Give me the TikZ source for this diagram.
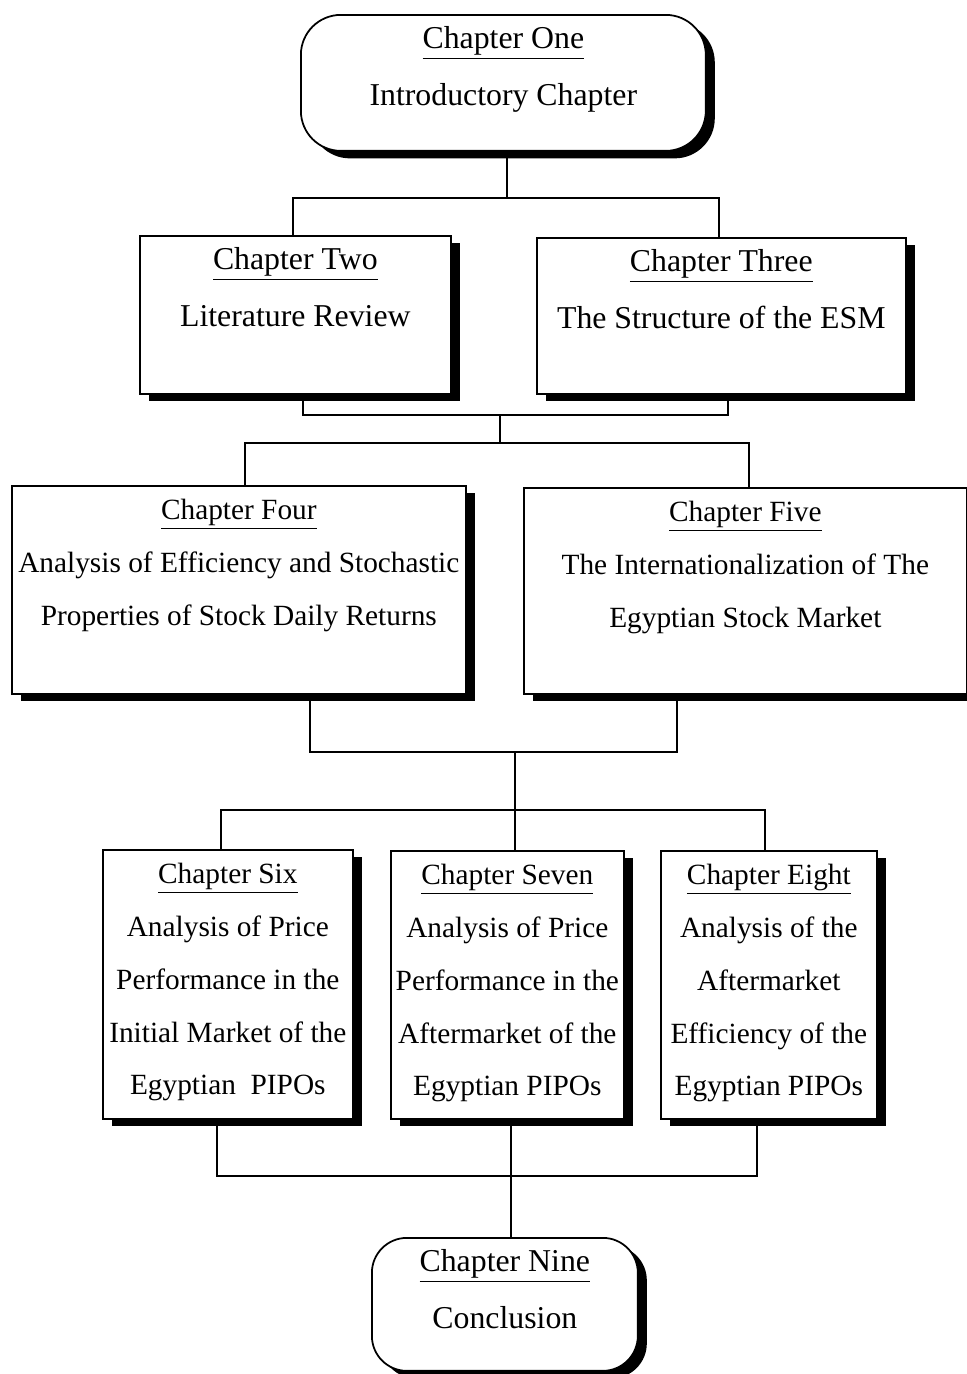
\documentclass[tikz,border=0pt]{standalone}
\usepackage{fontspec}
\setmainfont{Liberation Serif}
\usetikzlibrary{shadows}
\tikzset{every path/.style={black,line width=1pt}, chapbox/.style={draw, fill=white, inner sep=0pt, anchor=north west, drop shadow={shadow xshift=0.18cm, shadow yshift=-0.15cm, fill=black, opacity=1}}}
\tikzset{roundbox/.style={chapbox, rounded corners=0.8cm}, bigtext/.style={font=\fontsize{18.1}{32.3}\selectfont}, smalltext/.style={font=\fontsize{16.7}{30}\selectfont}}
\newcommand{\chaptext}[3]{\parbox[t][#1][t]{#2}{\centering\rule{0pt}{0.68cm}#3}}

\begin{document}
\begin{tikzpicture}[x=0.02cm,y=-0.02cm]
   \useasboundingbox (0,0) rectangle (967,1374);
   \begin{scope}
    \node[roundbox, bigtext] (one) at (300,14) {\chaptext{2.72cm}{8.1cm}{\underline{Chapter One}\\Introductory Chapter}};
    \node[chapbox, bigtext] (two) at (139,235) {\chaptext{3.16cm}{6.22cm}{\underline{Chapter Two}\\Literature Review}};
    \node[chapbox, bigtext] (three) at (536,237) {\chaptext{3.12cm}{7.38cm}{\underline{Chapter Three}\\The Structure of the ESM}};
    \node[chapbox, smalltext] (four) at (11,485) {\chaptext{4.16cm}{9.08cm}{\underline{Chapter Four}\\Analysis of Efficiency and Stochastic\\Properties of Stock Daily Returns}};
    \node[chapbox, smalltext] (five) at (523,487) {\chaptext{4.12cm}{8.86cm}{\underline{Chapter Five}\\The Internationalization of The\\Egyptian Stock Market}};
   \end{scope}
   \begin{scope}
    \node[chapbox, smalltext] (six) at (102,849) {\chaptext{5.38cm}{5.0cm}{\underline{Chapter Six}\\Analysis of Price\\Performance in the\\Initial Market of the\\Egyptian\ \ PIPOs}};
    \node[chapbox, smalltext] (seven) at (390,850) {\chaptext{5.36cm}{4.66cm}{\underline{Chapter Seven}\\Analysis of Price\\Performance in the\\Aftermarket of the\\Egyptian PIPOs}};
    \node[chapbox, smalltext] (eight) at (660,850) {\chaptext{5.36cm}{4.32cm}{\underline{Chapter Eight}\\Analysis of the\\Aftermarket\\Efficiency of the\\Egyptian PIPOs}};
    \node[roundbox, bigtext, rounded corners=0.7cm] (nine) at (371,1237) {\chaptext{2.66cm}{5.32cm}{\underline{Chapter Nine}\\Conclusion}};
   \end{scope}
   \coordinate (j1) at (507,198);
   \coordinate (j2) at (500,415);
   \coordinate (j3) at (500,443);
   \coordinate (j4) at (515,752);
   \coordinate (j5) at (515,810);
   \coordinate (j6) at (511,1176);
   \draw (j1 |- one.south) -- (j1);
   \draw ([xshift=-0.05cm]two.north) |- (j1) -| ([xshift=-0.05cm]three.north);
   \draw ([xshift=0.15cm]two.south) |- (j2) -| ([xshift=0.13cm]three.south);
   \draw (j2) -- (j3);
   \draw ([xshift=0.12cm]four.north) |- (j3) -| ([xshift=0.07cm]five.north);
   \draw ([xshift=1.42cm]four.south) |- (j4) -| ([xshift=-1.37cm]five.south);
   \draw (j4) -- (j5);
   \draw ([xshift=-0.14cm]six.north) |- (j5) -| ([xshift=-0.08cm]eight.north);
   \draw (j5) -- (j5 |- seven.north);
   \draw ([xshift=-0.22cm]six.south) |- (j6) -| ([xshift=-0.24cm]eight.south);
   \draw (j6 |- seven.south) -- (j6 |- nine.north);
  \end{tikzpicture}
\end{document}
